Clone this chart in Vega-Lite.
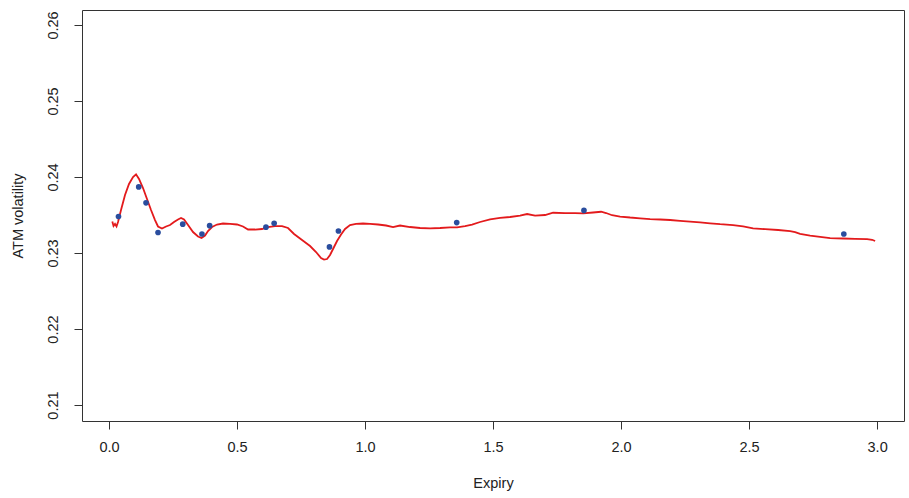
{
  "$schema": "https://vega.github.io/schema/vega-lite/v6.json",
  "width": 822,
  "height": 411,
  "autosize": {"type": "none"},
  "padding": {"left": 82, "top": 10, "right": 5, "bottom": 77},
  "background": "white",
  "config": {
    "view": {"stroke": "#333333", "strokeWidth": 1},
    "font": "Liberation Sans",
    "axis": {
      "domain": false,
      "grid": false,
      "tickSize": 8,
      "tickColor": "#333333",
      "labelColor": "#222222",
      "titleColor": "#222222",
      "labelFont": "Liberation Sans",
      "titleFont": "Liberation Sans",
      "labelFontSize": 14.5,
      "titleFontSize": 14.5,
      "titleFontWeight": "normal"
    }
  },
  "datasets": {
    "curve": [
      {"expiry": 0.0129, "vol": 0.23414},
      {"expiry": 0.0176, "vol": 0.23355},
      {"expiry": 0.0234, "vol": 0.23382},
      {"expiry": 0.0293, "vol": 0.23349},
      {"expiry": 0.0352, "vol": 0.23408},
      {"expiry": 0.0469, "vol": 0.23566},
      {"expiry": 0.0625, "vol": 0.23763},
      {"expiry": 0.0781, "vol": 0.23908},
      {"expiry": 0.0938, "vol": 0.24000},
      {"expiry": 0.1055, "vol": 0.24036},
      {"expiry": 0.1172, "vol": 0.23974},
      {"expiry": 0.1328, "vol": 0.23855},
      {"expiry": 0.1484, "vol": 0.23711},
      {"expiry": 0.1641, "vol": 0.23566},
      {"expiry": 0.1797, "vol": 0.23434},
      {"expiry": 0.1914, "vol": 0.23349},
      {"expiry": 0.2070, "vol": 0.23322},
      {"expiry": 0.2227, "vol": 0.23349},
      {"expiry": 0.2383, "vol": 0.23368},
      {"expiry": 0.2539, "vol": 0.23408},
      {"expiry": 0.2695, "vol": 0.23441},
      {"expiry": 0.2813, "vol": 0.23461},
      {"expiry": 0.2930, "vol": 0.23441},
      {"expiry": 0.3086, "vol": 0.23368},
      {"expiry": 0.3281, "vol": 0.23276},
      {"expiry": 0.3477, "vol": 0.23217},
      {"expiry": 0.3613, "vol": 0.23197},
      {"expiry": 0.3750, "vol": 0.23230},
      {"expiry": 0.3867, "vol": 0.23289},
      {"expiry": 0.4023, "vol": 0.23342},
      {"expiry": 0.4219, "vol": 0.23375},
      {"expiry": 0.4453, "vol": 0.23388},
      {"expiry": 0.4727, "vol": 0.23382},
      {"expiry": 0.5000, "vol": 0.23375},
      {"expiry": 0.5234, "vol": 0.23349},
      {"expiry": 0.5430, "vol": 0.23309},
      {"expiry": 0.5703, "vol": 0.23309},
      {"expiry": 0.5977, "vol": 0.23316},
      {"expiry": 0.6211, "vol": 0.23342},
      {"expiry": 0.6484, "vol": 0.23355},
      {"expiry": 0.6758, "vol": 0.23355},
      {"expiry": 0.6992, "vol": 0.23329},
      {"expiry": 0.7227, "vol": 0.23250},
      {"expiry": 0.7539, "vol": 0.23171},
      {"expiry": 0.7852, "vol": 0.23092},
      {"expiry": 0.8086, "vol": 0.23013},
      {"expiry": 0.8281, "vol": 0.22934},
      {"expiry": 0.8398, "vol": 0.22914},
      {"expiry": 0.8516, "vol": 0.22921},
      {"expiry": 0.8633, "vol": 0.22974},
      {"expiry": 0.8789, "vol": 0.23079},
      {"expiry": 0.8906, "vol": 0.23158},
      {"expiry": 0.9063, "vol": 0.23243},
      {"expiry": 0.9219, "vol": 0.23316},
      {"expiry": 0.9414, "vol": 0.23368},
      {"expiry": 0.9648, "vol": 0.23382},
      {"expiry": 0.9922, "vol": 0.23388},
      {"expiry": 1.0195, "vol": 0.23382},
      {"expiry": 1.0508, "vol": 0.23375},
      {"expiry": 1.0820, "vol": 0.23362},
      {"expiry": 1.1094, "vol": 0.23342},
      {"expiry": 1.1367, "vol": 0.23362},
      {"expiry": 1.1758, "vol": 0.23342},
      {"expiry": 1.2148, "vol": 0.23329},
      {"expiry": 1.2539, "vol": 0.23325},
      {"expiry": 1.2930, "vol": 0.23329},
      {"expiry": 1.3320, "vol": 0.23336},
      {"expiry": 1.3594, "vol": 0.23338},
      {"expiry": 1.3906, "vol": 0.23355},
      {"expiry": 1.4180, "vol": 0.23375},
      {"expiry": 1.4492, "vol": 0.23408},
      {"expiry": 1.4883, "vol": 0.23443},
      {"expiry": 1.5273, "vol": 0.23461},
      {"expiry": 1.5664, "vol": 0.23474},
      {"expiry": 1.6055, "vol": 0.23493},
      {"expiry": 1.6328, "vol": 0.23513},
      {"expiry": 1.6641, "vol": 0.23493},
      {"expiry": 1.7031, "vol": 0.23500},
      {"expiry": 1.7344, "vol": 0.23530},
      {"expiry": 1.7813, "vol": 0.23526},
      {"expiry": 1.8203, "vol": 0.23524},
      {"expiry": 1.8516, "vol": 0.23522},
      {"expiry": 1.8906, "vol": 0.23533},
      {"expiry": 1.9219, "vol": 0.23543},
      {"expiry": 1.9414, "vol": 0.23526},
      {"expiry": 1.9648, "vol": 0.23497},
      {"expiry": 1.9961, "vol": 0.23480},
      {"expiry": 2.0352, "vol": 0.23467},
      {"expiry": 2.0742, "vol": 0.23457},
      {"expiry": 2.1133, "vol": 0.23447},
      {"expiry": 2.1523, "vol": 0.23441},
      {"expiry": 2.1914, "vol": 0.23434},
      {"expiry": 2.2305, "vol": 0.23424},
      {"expiry": 2.2695, "vol": 0.23414},
      {"expiry": 2.3086, "vol": 0.23404},
      {"expiry": 2.3477, "vol": 0.23391},
      {"expiry": 2.3867, "vol": 0.23379},
      {"expiry": 2.4375, "vol": 0.23368},
      {"expiry": 2.4766, "vol": 0.23349},
      {"expiry": 2.5156, "vol": 0.23325},
      {"expiry": 2.5625, "vol": 0.23313},
      {"expiry": 2.6133, "vol": 0.23303},
      {"expiry": 2.6602, "vol": 0.23289},
      {"expiry": 2.6797, "vol": 0.23276},
      {"expiry": 2.6992, "vol": 0.23253},
      {"expiry": 2.7383, "vol": 0.23230},
      {"expiry": 2.7773, "vol": 0.23213},
      {"expiry": 2.8164, "vol": 0.23197},
      {"expiry": 2.8672, "vol": 0.23191},
      {"expiry": 2.9141, "vol": 0.23187},
      {"expiry": 2.9609, "vol": 0.23184},
      {"expiry": 2.9805, "vol": 0.23174},
      {"expiry": 2.9922, "vol": 0.23158}
    ],
    "quotes": [
      {"expiry": 0.037, "vol": 0.2348},
      {"expiry": 0.116, "vol": 0.2387},
      {"expiry": 0.1445, "vol": 0.2366},
      {"expiry": 0.1914, "vol": 0.2327},
      {"expiry": 0.288, "vol": 0.2338},
      {"expiry": 0.363, "vol": 0.2325},
      {"expiry": 0.393, "vol": 0.2336},
      {"expiry": 0.613, "vol": 0.2334},
      {"expiry": 0.645, "vol": 0.2339},
      {"expiry": 0.861, "vol": 0.2308},
      {"expiry": 0.896, "vol": 0.2329},
      {"expiry": 1.358, "vol": 0.2340},
      {"expiry": 1.855, "vol": 0.2356},
      {"expiry": 2.870, "vol": 0.2325}
    ]
  },
  "layer": [
    {
      "data": {"name": "curve"},
      "mark": {"type": "line", "color": "#e31a1c", "strokeWidth": 1.8},
      "encoding": {
        "x": {
          "field": "expiry", "type": "quantitative",
          "scale": {"domain": [-0.1055, 3.105], "nice": false, "zero": false},
          "axis": {"values": [0, 0.5, 1, 1.5, 2, 2.5, 3], "format": ".1f", "labelPadding": 11, "title": "Expiry", "titlePadding": 23}
        },
        "y": {
          "field": "vol", "type": "quantitative",
          "scale": {"domain": [0.2079, 0.26197], "nice": false, "zero": false},
          "axis": {"values": [0.21, 0.22, 0.23, 0.24, 0.25, 0.26], "format": ".2f", "labelAngle": -90, "labelAlign": "center", "labelBaseline": "bottom", "labelPadding": 14, "title": "ATM volatility", "titlePadding": 20}
        }
      }
    },
    {
      "data": {"name": "quotes"},
      "mark": {"type": "point", "filled": true, "color": "#2a4d9e", "size": 32, "opacity": 1},
      "encoding": {
        "x": {"field": "expiry", "type": "quantitative"},
        "y": {"field": "vol", "type": "quantitative"}
      }
    }
  ]
}
